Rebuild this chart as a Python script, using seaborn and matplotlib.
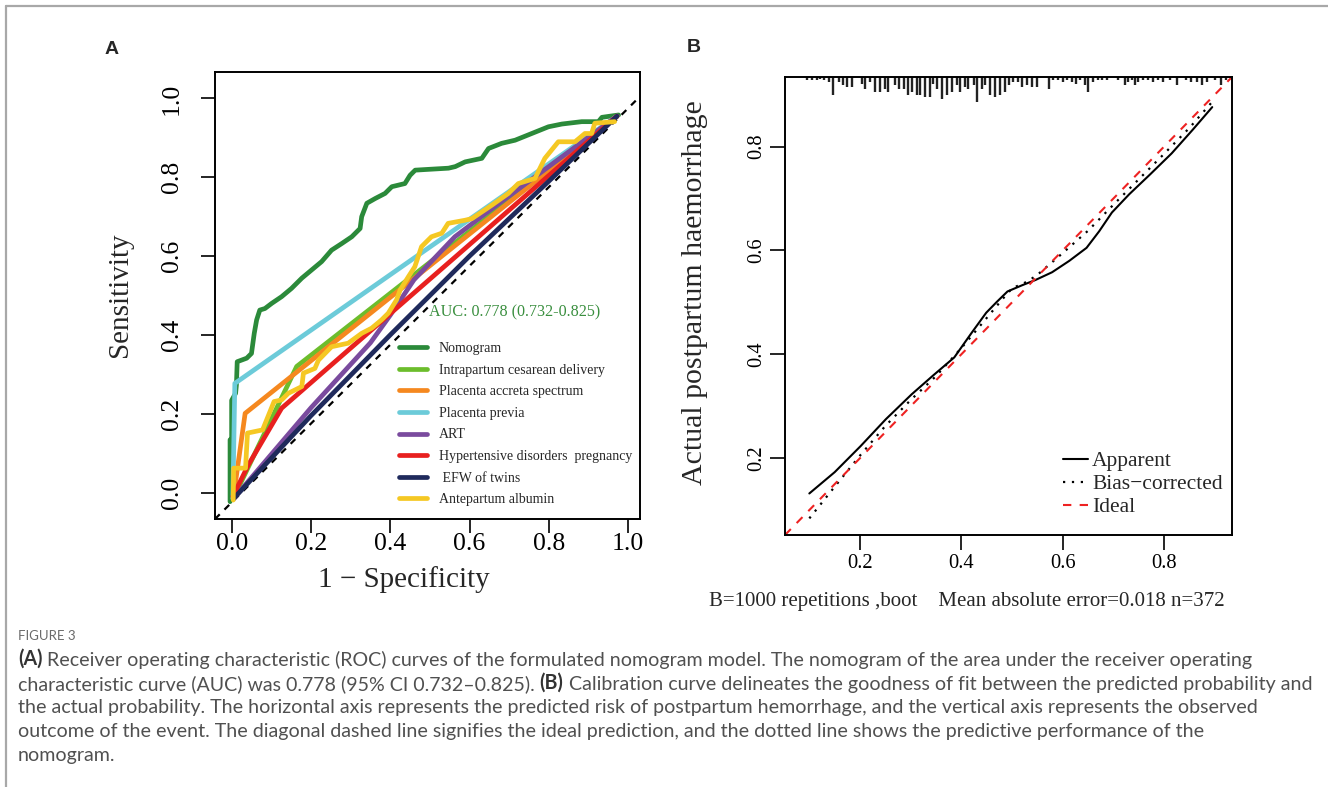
import numpy as np
import pandas as pd
import matplotlib.pyplot as plt
import seaborn as sns
from matplotlib.lines import Line2D
from matplotlib.ticker import FormatStrFormatter

# ---------------------------------------------------------------------------
# Data
# ---------------------------------------------------------------------------
# Panel A: ROC curves (1 - specificity, sensitivity)
roc_names = ['Nomogram', 'Intrapartum cesarean delivery', 'Placenta accreta spectrum',
             'Placenta previa', 'ART', 'Hypertensive disorders  pregnancy',
             ' EFW of twins', 'Antepartum albumin']
roc_colors = ['#2b8a3a', '#6cbd2c', '#f5881f', '#6ccbd9', '#7a4b9e', '#e8201f',
              '#1f2a5c', '#f5c823']

nomogram_fpr = [-0.004, -0.004, 0.000, 0.000, 0.010, 0.012, 0.014, 0.038, 0.050, 0.057,
                0.063, 0.071, 0.084, 0.101, 0.126, 0.151, 0.177, 0.202, 0.227, 0.252,
                0.278, 0.303, 0.324, 0.328, 0.341, 0.362, 0.387, 0.404, 0.437, 0.450,
                0.463, 0.496, 0.547, 0.564, 0.589, 0.631, 0.648, 0.681, 0.715, 0.757,
                0.799, 0.833, 0.883, 0.925, 0.934, 0.976]
nomogram_tpr = [-0.023, 0.134, 0.134, 0.234, 0.252, 0.273, 0.332, 0.341, 0.353, 0.404,
                0.438, 0.463, 0.467, 0.480, 0.497, 0.518, 0.544, 0.565, 0.586, 0.615,
                0.632, 0.649, 0.670, 0.700, 0.734, 0.746, 0.759, 0.776, 0.784, 0.805,
                0.818, 0.820, 0.823, 0.827, 0.839, 0.848, 0.873, 0.886, 0.894, 0.911,
                0.928, 0.935, 0.941, 0.941, 0.952, 0.958]
cesarean_fpr = [0.004, 0.164, 0.972]
cesarean_tpr = [-0.015, 0.320, 0.955]
accreta_fpr = [0.004, 0.034, 0.972]
accreta_tpr = [-0.015, 0.201, 0.955]
previa_fpr = [0.003, 0.008, 0.972]
previa_tpr = [-0.015, 0.277, 0.955]
art_fpr = [0.005, 0.200, 0.350, 0.400, 0.460, 0.563, 0.630, 0.750, 0.972]
art_tpr = [-0.015, 0.215, 0.380, 0.450, 0.540, 0.649, 0.700, 0.790, 0.955]
hyper_fpr = [0.003, 0.042, 0.126, 0.972]
hyper_tpr = [-0.010, 0.070, 0.214, 0.955]
efw_fpr = [0.005, 0.200, 0.400, 0.600, 0.800, 0.972]
efw_tpr = [-0.015, 0.195, 0.400, 0.600, 0.790, 0.955]
albumin_fpr = [0.004, 0.005, 0.035, 0.040, 0.078, 0.107, 0.126, 0.143, 0.177, 0.181,
               0.210, 0.219, 0.252, 0.294, 0.328, 0.353, 0.378, 0.395, 0.416, 0.425,
               0.446, 0.462, 0.479, 0.504, 0.530, 0.546, 0.589, 0.606, 0.656, 0.698,
               0.723, 0.765, 0.790, 0.824, 0.866, 0.891, 0.908, 0.916, 0.966]
albumin_tpr = [-0.019, 0.062, 0.062, 0.151, 0.159, 0.231, 0.235, 0.252, 0.269, 0.303,
               0.315, 0.336, 0.370, 0.379, 0.404, 0.417, 0.438, 0.455, 0.489, 0.514,
               0.548, 0.573, 0.624, 0.649, 0.658, 0.683, 0.691, 0.695, 0.729, 0.759,
               0.784, 0.797, 0.848, 0.890, 0.890, 0.911, 0.911, 0.937, 0.941]

roc_fpr = [nomogram_fpr, cesarean_fpr, accreta_fpr, previa_fpr, art_fpr, hyper_fpr,
           efw_fpr, albumin_fpr]
roc_tpr = [nomogram_tpr, cesarean_tpr, accreta_tpr, previa_tpr, art_tpr, hyper_tpr,
           efw_tpr, albumin_tpr]
diag_offset = -0.025
auc_text = 'AUC: 0.778 (0.732-0.825)'

# Panel B: calibration curve
apparent_x = [0.100, 0.150, 0.201, 0.251, 0.302, 0.344, 0.386, 0.420, 0.449, 0.470, 0.491,
              0.520, 0.546, 0.579, 0.613, 0.647, 0.672, 0.697, 0.731, 0.773, 0.815, 0.857,
              0.895]
apparent_y = [0.132, 0.173, 0.223, 0.275, 0.323, 0.359, 0.394, 0.441, 0.480, 0.501, 0.521,
              0.533, 0.543, 0.558, 0.580, 0.605, 0.637, 0.673, 0.708, 0.747, 0.787, 0.833,
              0.876]
bias_x = [0.100, 0.150, 0.200, 0.250, 0.300, 0.350, 0.400, 0.450, 0.480, 0.500, 0.530,
          0.550, 0.600, 0.650, 0.700, 0.750, 0.800, 0.850, 0.893]
bias_y = [0.084, 0.145, 0.205, 0.262, 0.312, 0.358, 0.412, 0.470, 0.505, 0.527, 0.540,
          0.553, 0.595, 0.638, 0.688, 0.737, 0.786, 0.836, 0.884]
# rug of predicted probabilities (position, relative tick height)
rug_x = [0.095, 0.105, 0.115, 0.121, 0.128, 0.138, 0.147, 0.159, 0.166, 0.174, 0.184,
         0.203, 0.210, 0.220, 0.230, 0.239, 0.249, 0.256, 0.269, 0.276, 0.286, 0.295,
         0.302, 0.312, 0.318, 0.328, 0.338, 0.345, 0.351, 0.361, 0.371, 0.381, 0.391,
         0.397, 0.407, 0.414, 0.424, 0.430, 0.440, 0.447, 0.456, 0.466, 0.476, 0.486,
         0.493, 0.502, 0.512, 0.519, 0.529, 0.539, 0.549, 0.572, 0.581, 0.591, 0.601,
         0.608, 0.618, 0.627, 0.634, 0.644, 0.650, 0.660, 0.670, 0.677, 0.687, 0.710,
         0.723, 0.729, 0.736, 0.742, 0.749, 0.759, 0.769, 0.779, 0.788, 0.798, 0.811,
         0.825, 0.844, 0.854, 0.864, 0.874, 0.884, 0.900, 0.913, 0.923]
rug_h = [3, 3, 3, 2, 3, 5, 18, 5, 8, 10, 10, 7, 12, 5, 15, 15, 12, 15, 8, 12, 12, 18,
         15, 18, 18, 20, 20, 7, 12, 22, 18, 15, 8, 15, 10, 12, 8, 25, 12, 8, 18, 20,
         18, 15, 8, 5, 5, 10, 8, 10, 10, 12, 3, 3, 5, 3, 5, 7, 3, 8, 15, 5, 3, 3, 3, 3,
         8, 5, 3, 8, 5, 3, 3, 5, 3, 5, 3, 8, 3, 5, 5, 8, 5, 3, 8, 3]
calib_sub = 'B=1000 repetitions ,boot    Mean absolute error=0.018 n=372'

caption_lines = [
    ['(A)', ' Receiver operating characteristic (ROC) curves of the formulated nomogram model. '
            'The nomogram of the area under the receiver operating'],
    ['characteristic curve (AUC) was 0.778 (95% CI 0.732\u20130.825). ', '(B)',
     ' Calibration curve delineates the goodness of fit between the predicted probability and'],
    ['the actual probability. The horizontal axis represents the predicted risk of postpartum '
     'hemorrhage, and the vertical axis represents the observed'],
    ['outcome of the event. The diagonal dashed line signifies the ideal prediction, and the '
     'dotted line shows the predictive performance of the'],
    ['nomogram.'],
]

# ---------------------------------------------------------------------------
# Style
# ---------------------------------------------------------------------------
sns.set_theme(style='ticks')
plt.rcParams['font.family'] = ['Liberation Serif', 'DejaVu Serif']
plt.rcParams['axes.edgecolor'] = 'black'
plt.rcParams['axes.linewidth'] = 1.4
plt.rcParams['xtick.color'] = 'black'
plt.rcParams['ytick.color'] = 'black'

W, H = 1328, 787
fig = plt.figure(figsize=(W / 100, H / 100), dpi=100)


def px_rect(l, t, r, b):
    return [l / W, 1 - b / H, (r - l) / W, (b - t) / H]


# ---------------------------------------------------------------------------
# Panel A
# ---------------------------------------------------------------------------
axA = fig.add_axes(px_rect(215, 72, 640, 519))
frames = []
for name, fx, ty in zip(roc_names, roc_fpr, roc_tpr):
    frames.append(pd.DataFrame({'fpr': fx, 'tpr': ty, 'model': name}))
roc_df = pd.concat(frames, ignore_index=True)

axA.axline((0, diag_offset), slope=1, color='black', lw=1.6, ls=(0, (3, 3)), zorder=1)
sns.lineplot(data=roc_df, x='fpr', y='tpr', hue='model', hue_order=roc_names,
             palette=roc_colors, sort=False, estimator=None, lw=3.4, ax=axA)
sns.move_legend(axA, 'upper left', bbox_to_anchor=(399 / W, 1 - 342 / H),
                bbox_transform=fig.transFigure, frameon=False, title=None,
                fontsize=10, handlelength=2.0, handletextpad=0.85, labelspacing=0.62,
                borderpad=0, borderaxespad=0)
axA.text(0.498, 0.456, auc_text, color='#3a8f3f', fontsize=11.6, va='center', ha='left')

axA.set_xlim(-0.042, 1.03)
axA.set_ylim(-0.067, 1.067)
axA.set_xticks(np.arange(0, 1.01, 0.2))
axA.set_yticks(np.arange(0, 1.01, 0.2))
axA.xaxis.set_major_formatter(FormatStrFormatter('%.1f'))
axA.yaxis.set_major_formatter(FormatStrFormatter('%.1f'))
axA.tick_params(length=10, width=1.2, labelsize=18.5)
axA.tick_params(axis='x', pad=0)
axA.tick_params(axis='y', pad=13, labelrotation=90)
plt.setp(axA.get_yticklabels(), va='center')
axA.set_xlabel('')
axA.set_ylabel('')
axA.text(0.4447, -0.1365, '1 \u2212 Specificity', transform=axA.transAxes,
         fontsize=21, ha='center', va='center')
axA.text(-0.2235, 0.501, 'Sensitivity', transform=axA.transAxes, rotation=90,
         fontsize=21, ha='center', va='center')

# ---------------------------------------------------------------------------
# Panel B
# ---------------------------------------------------------------------------
axB = fig.add_axes(px_rect(785, 77, 1232, 535))
sns.lineplot(x=apparent_x, y=apparent_y, color='black', lw=1.5, sort=False,
             estimator=None, label='Apparent', ax=axB)
sns.lineplot(x=bias_x, y=bias_y, color='black', lw=1.6, ls=(0, (1, 3)), sort=False,
             estimator=None, label='Bias\u2212corrected', ax=axB)
axB.axline((0, 0), slope=1, color='#ee2222', lw=1.5, ls=(0, (4, 4)), label='Ideal')
axB.vlines(rug_x, 1 - np.array(rug_h) / 458, 1, transform=axB.get_xaxis_transform(),
           color='#222222', lw=1.7)

handles, labels = axB.get_legend_handles_labels()
axB.legend(handles, labels, loc='upper left', bbox_to_anchor=(1063 / W, 1 - 451 / H),
           bbox_transform=fig.transFigure, frameon=False, fontsize=15.5,
           handlelength=1.15, handletextpad=0.2, labelspacing=0.14,
           borderpad=0, borderaxespad=0)

axB.set_xlim(0.052, 0.934)
axB.set_ylim(0.052, 0.934)
axB.set_xticks([0.2, 0.4, 0.6, 0.8])
axB.set_yticks([0.2, 0.4, 0.6, 0.8])
axB.xaxis.set_major_formatter(FormatStrFormatter('%.1f'))
axB.yaxis.set_major_formatter(FormatStrFormatter('%.1f'))
axB.tick_params(length=11, width=1.2, labelsize=14.8)
axB.tick_params(axis='x', pad=3)
axB.tick_params(axis='y', pad=2.5, labelrotation=90)
plt.setp(axB.get_yticklabels(), va='center')
axB.set_xlabel('')
axB.set_ylabel('')
axB.text(-0.2013, 0.53, 'Actual postpartum haemorrhage', transform=axB.transAxes,
         rotation=90, fontsize=21.5, ha='center', va='center')
axB.text(0.407, -0.146, calib_sub, transform=axB.transAxes, fontsize=15,
         ha='center', va='center')

# ---------------------------------------------------------------------------
# Panel letters, frame and caption
# ---------------------------------------------------------------------------
fig.text(112 / W, 1 - 50 / H, 'A', family='Liberation Sans', weight='bold',
         fontsize=14, ha='center', va='center')
fig.text(694 / W, 1 - 48 / H, 'B', family='Liberation Sans', weight='bold',
         fontsize=14, ha='center', va='center')
fig.add_artist(Line2D([6 / W, 6 / W], [0, 1 - 5.5 / H], transform=fig.transFigure,
                      color='#a8a8a8', lw=1.6))
fig.add_artist(Line2D([6 / W, 1], [1 - 5.5 / H, 1 - 5.5 / H], transform=fig.transFigure,
                      color='#a8a8a8', lw=1.6))

cap_font = dict(family=['Lato', 'DejaVu Sans'], fontsize=14.1, color='#505050')
fig.text(18 / W, 1 - 636 / H, 'FIGURE 3', family=['Lato', 'DejaVu Sans'], fontsize=9.5,
         color='#6a6a6a', va='center')
line_y = [659, 684, 708, 732, 756]
for parts, y in zip(caption_lines, line_y):
    prev = None
    for part in parts:
        weight = 'bold' if part in ('(A)', '(B)') else 'normal'
        color = '#333333' if weight == 'bold' else cap_font['color']
        if prev is None:
            prev = fig.text(18 / W, 1 - y / H, part, family=cap_font['family'],
                            fontsize=cap_font['fontsize'], color=color, weight=weight,
                            va='center')
        else:
            prev = axA.annotate(part, xy=(1, 0), xycoords=prev, va='bottom', ha='left',
                                family=cap_font['family'], fontsize=cap_font['fontsize'],
                                color=color, weight=weight, annotation_clip=False)

fig.savefig('out.png', dpi=100)
